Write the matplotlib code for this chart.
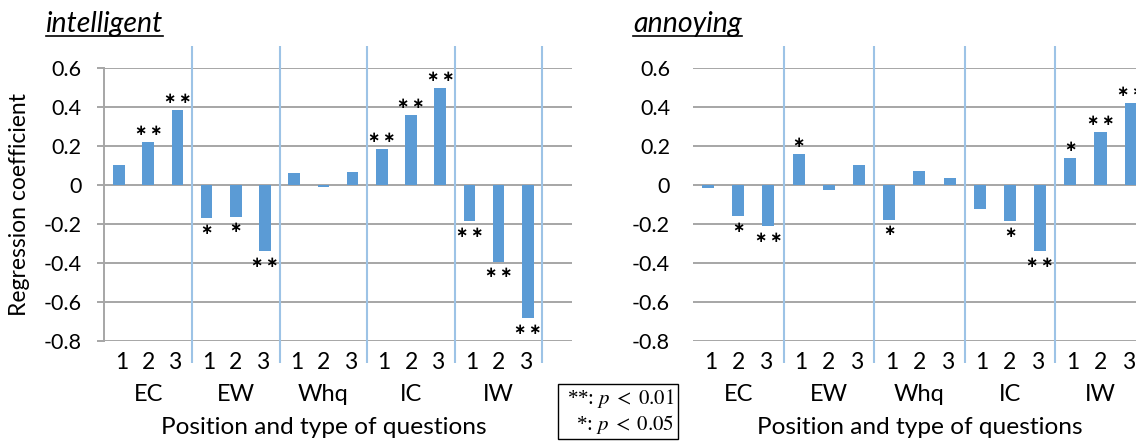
import numpy as np
import matplotlib.pyplot as plt
from matplotlib.lines import Line2D
from matplotlib.patches import Rectangle

plt.rcParams['font.family'] = ['Lato', 'DejaVu Sans']
plt.rcParams['mathtext.fontset'] = 'stix'

# data
groups = ['EC', 'EW', 'Whq', 'IC', 'IW']
positions = ['1', '2', '3']
ytick_vals = [0.6, 0.4, 0.2, 0, -0.2, -0.4, -0.6, -0.8]
ytick_labels = ['0.6', '0.4', '0.2', '0', '-0.2', '-0.4', '-0.6', '-0.8']

intelligent = [0.105, 0.224, 0.387,
               -0.168, -0.161, -0.337,
               0.062, -0.009, 0.067,
               0.185, 0.359, 0.500,
               -0.183, -0.392, -0.683]
intelligent_sig = ['', '**', '**',
                   '*', '*', '**',
                   '', '', '',
                   '**', '**', '**',
                   '**', '**', '**']

annoying = [-0.017, -0.158, -0.211,
            0.161, -0.027, 0.103,
            -0.177, 0.074, 0.039,
            -0.122, -0.185, -0.338,
            0.139, 0.274, 0.423]
annoying_sig = ['', '*', '**',
                '*', '', '',
                '*', '', '',
                '', '*', '**',
                '*', '**', '**']

bar_color = '#5B9BD5'
grid_color = '#A6A6A6'
sep_color = '#9DC3E6'

fig = plt.figure(figsize=(11.36, 4.43), dpi=100)


def draw_panel(ax, vals, sig, show_axis):
    n = len(vals)
    x = np.arange(n)
    ax.bar(x, vals, width=0.4, color=bar_color, zorder=3)
    ax.set_xlim(-0.5, n + 0.5)
    ax.set_ylim(-0.8, 0.6)
    ax.set_yticks(ytick_vals)
    ax.set_yticklabels(ytick_labels, fontsize=15.5)
    ax.set_xticks([])
    ax.yaxis.grid(True, color=grid_color, lw=1.4, zorder=0)
    for s in ['top', 'right', 'bottom']:
        ax.spines[s].set_visible(False)
    if show_axis:
        ax.spines['left'].set_color(grid_color)
        ax.spines['left'].set_linewidth(1.4)
        ax.tick_params(axis='y', length=5, width=1.4, color=grid_color, pad=11.5)
    else:
        ax.spines['left'].set_visible(False)
        ax.tick_params(axis='y', length=0, pad=16.5)
    # group separators
    bounds = [2.5 + 3 * k for k in range(len(groups))]
    ax.vlines(bounds, -0.913, 0.714, color=sep_color, lw=1.5, clip_on=False, zorder=2)
    # significance stars
    for xi, v, s in zip(x, vals, sig):
        if not s:
            continue
        txt = '\u2009'.join(['\u2217'] * len(s))
        yy = v + 0.058 if v > 0 else v - 0.058
        ax.text(xi, yy, txt, ha='center', va='center', fontsize=10.5,
                family=['DejaVu Sans'], fontweight='bold')
    # category labels
    for g, name in enumerate(groups):
        mid = 3 * g + 1
        for j, p in enumerate(positions):
            ax.text(mid + (j - 1) * 0.92, -0.908, p, ha='center', va='center',
                    fontsize=16.5, clip_on=False)
        ax.text(mid, -1.077, name, ha='center', va='center', fontsize=17,
                clip_on=False)
    ax.text(7, -1.246, 'Position and type of questions', ha='center',
            va='center', fontsize=17.6, clip_on=False)


ax1 = fig.add_axes([0.0919, 0.2302, 0.4113, 0.6156])
draw_panel(ax1, intelligent, intelligent_sig, True)
ax2 = fig.add_axes([0.6100, 0.2302, 0.4252, 0.6156])
draw_panel(ax2, annoying, annoying_sig, False)

fig.text(0.0176, 0.538, 'Regression coefficient', rotation=90, ha='center',
         va='center', fontsize=16.5)

# panel titles, underlined
titles = [(45.5, 'intelligent'), (633, 'annoying')]
title_objs = []
for px, t in titles:
    title_objs.append(fig.text(px / 1136, 1 - 24 / 443, t, ha='left', va='center',
                               fontsize=20.5, style='italic'))
fig.canvas.draw()
r = fig.canvas.get_renderer()
for t in title_objs:
    bb = t.get_window_extent(r)
    yline = 1 - 36 / 443
    fig.add_artist(Line2D([bb.x0 / 1136, bb.x1 / 1136], [yline, yline],
                          transform=fig.transFigure, color='black', lw=1.2))

# significance key
fig.add_artist(Rectangle((558 / 1136, 1 - 439 / 443), 120 / 1136, 55 / 443,
                         transform=fig.transFigure, fill=False, ec='black', lw=1.0))
fig.text(674 / 1136, 1 - 399 / 443, r'**: $p\;<\;0.01$', ha='right', va='center',
         fontsize=15, family=['Liberation Serif'])
fig.text(674 / 1136, 1 - 424 / 443, r'*: $p\;<\;0.05$', ha='right', va='center',
         fontsize=15, family=['Liberation Serif'])

fig.savefig('out.png', dpi=100)
